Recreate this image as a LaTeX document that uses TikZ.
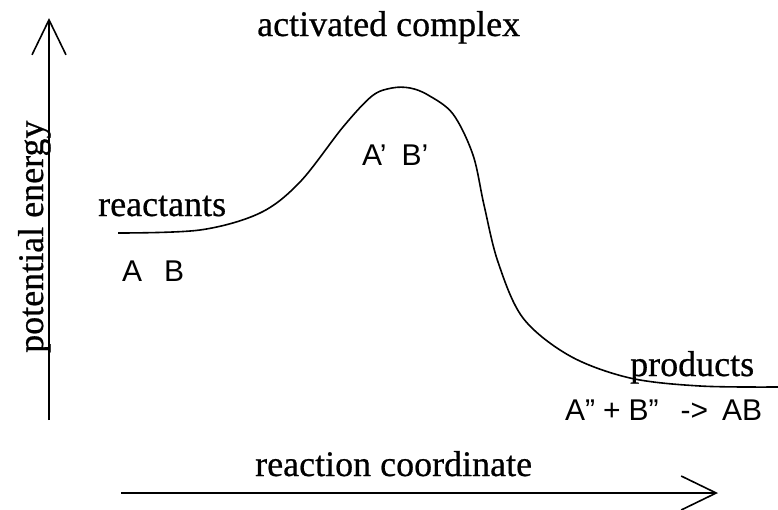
\documentclass[tikz,border=0pt]{standalone}
\usepackage{fontspec}
\setmainfont{Liberation Serif}[FakeBold=0.6]
\newfontfamily\labsans{Liberation Sans}
\usetikzlibrary{arrows.meta}
\begin{document}
\begin{tikzpicture}[x=1pt,y=-1pt,
  axis/.style={line width=1.8pt,-{Straight Barb[length=35pt,width=34pt,line width=1.6pt]}},
  serif/.style={font=\fontsize{36}{40}\selectfont,inner sep=0pt,anchor=base west},
  sans/.style={font=\labsans\fontsize{30}{34}\selectfont,inner sep=0pt,anchor=base west},
  curve/.style={line width=1.6pt}]
\useasboundingbox (0,0) rectangle (778,509);
\coordinate (yb) at (49,420);
\coordinate (yt) at (49,18);
\coordinate (xl) at (121,493);
\coordinate (xr) at (718,493);
\draw[axis] (yb) -- (yt);
\draw[axis] (xl) -- (xr);
\draw[curve] plot[smooth,tension=0.55] coordinates {(118,233) (200,230) (260,213) (300,182) (343,127) (372,96) (392,88) (410,88) (428,95) (453,114) (473,155) (484,205) (498,262) (523,318) (570,356) (630,378) (700,386) (778,387)};
\node[serif] (ac) at (257,36) {activated complex};
\node[serif] (re) at (98,216) {reactants};
\node[serif] (pr) at (630,376) {products};
\node[serif] (rc) at (255,476) {reaction coordinate};
\node[serif,rotate=90] (pe) at (43,353) {potential energy};
\node[sans] (ab) at (122,281) {A\hspace{22pt}B};
\node[sans] (abp) at (362,165) {A’\hspace{15pt}B’};
\node[sans] (abpp) at (565,420) {A”\hspace{8pt}+\hspace{8pt}B”\hspace{22pt}->\hspace{14pt}AB};
\end{tikzpicture}
\end{document}
